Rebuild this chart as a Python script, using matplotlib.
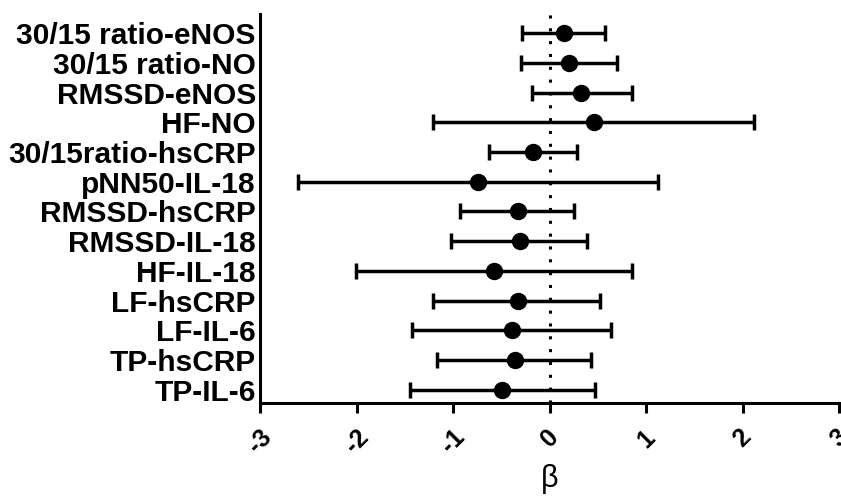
import numpy as np
import matplotlib
matplotlib.use("Agg")
import matplotlib.pyplot as plt

plt.rcParams['font.family'] = ['Liberation Sans', 'DejaVu Sans']

labels = ["30/15 ratio-eNOS", "30/15 ratio-NO", "RMSSD-eNOS", "HF-NO",
          "30/15ratio-hsCRP", "pNN50-IL-18", "RMSSD-hsCRP", "RMSSD-IL-18",
          "HF-IL-18", "LF-hsCRP", "LF-IL-6", "TP-hsCRP", "TP-IL-6"]
beta = np.array([0.15, 0.20, 0.33, 0.46, -0.17, -0.74, -0.33, -0.31,
                 -0.57, -0.33, -0.39, -0.36, -0.49])
ci_low = np.array([-0.28, -0.30, -0.18, -1.21, -0.63, -2.61, -0.93, -1.02,
                   -2.01, -1.21, -1.42, -1.17, -1.45])
ci_high = np.array([0.57, 0.70, 0.85, 2.12, 0.29, 1.12, 0.25, 0.39,
                    0.86, 0.52, 0.64, 0.43, 0.47])
xticks = [-3, -2, -1, 0, 1, 2, 3]

fig = plt.figure(figsize=(8.41, 4.98), dpi=100)
ax = fig.add_axes([260 / 841, 1 - 403 / 498, (839 - 260) / 841, (403 - 14) / 498])

ypos = np.arange(len(labels))[::-1] + 1
ax.axvline(0, color='black', lw=2.2, ls=(0, (1, 3.2)), zorder=1)
ax.errorbar(beta, ypos, xerr=[beta - ci_low, ci_high - beta], fmt='o',
            color='black', ms=11.5, elinewidth=2.5, capsize=5.5, capthick=2.5,
            zorder=3)

ax.set_xlim(-3, 3)
ax.set_ylim(0.56, 13.64)
ax.set_yticks(ypos)
ax.set_yticklabels(labels, fontsize=21.5, fontweight='bold')
ax.tick_params(axis='y', length=0, pad=3)
ax.set_xticks(xticks)
ax.set_xticklabels([str(t) for t in xticks], rotation=45, fontsize=18,
                   fontweight='bold')
ax.tick_params(axis='x', length=7, width=2.2, pad=9)
for s in ['top', 'right']:
    ax.spines[s].set_visible(False)
for s in ['left', 'bottom']:
    ax.spines[s].set_linewidth(2.2)
ax.set_xlabel("β", fontsize=22, labelpad=4)

fig.savefig("out.png", dpi=100)
